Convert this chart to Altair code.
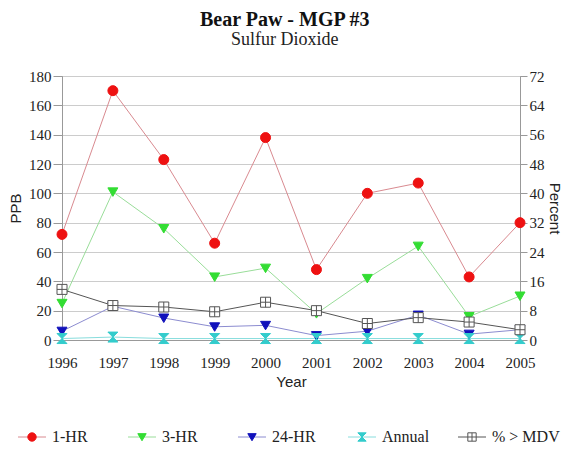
import altair as alt
import pandas as pd

years = [1996, 1997, 1998, 1999, 2000, 2001, 2002, 2003, 2004, 2005]
hr1 = [72, 170, 123, 66, 138, 48, 100, 107, 43, 80]
hr3 = [25, 101, 76, 43, 49, 18, 42, 64, 16, 30]
hr24 = [6, 23, 15, 9, 10, 3, 6, 17, 4, 7]
annual = [1, 2, 1, 1, 1, 1, 1, 1, 1, 1]
pct_mdv = [13.8, 9.4, 9.0, 7.7, 10.3, 8.0, 4.5, 6.1, 4.9, 2.8]

ppb_names = ["1-HR", "3-HR", "24-HR", "Annual"]
all_names = ["1-HR", "3-HR", "24-HR", "Annual", "% > MDV"]
line_colors = ["#d98a90", "#99dd99", "#8c8cd0", "#88dddd", "#555555"]
fill_colors = ["#ee1111", "#33dd33", "#1111bb", "#33cccc", "#ffffff"]
stroke_colors = ["#ee1111", "#33dd33", "#1111bb", "#33cccc", "#555555"]
tri = "M-1,-0.8L1,-0.8L0,0.9Z"
shapes = ["circle", tri, tri, "M-1,-1H1L0,0L1,1H-1L0,0Z",
          "M-1,-1H1V1H-1Z M0,-1V1 M-1,0H1"]

rows = []
for name, vals in zip(ppb_names, [hr1, hr3, hr24, annual]):
    for y, v in zip(years, vals):
        rows.append({"year": y, "series": name, "ppb": v})
ppb_df = pd.DataFrame(rows)
pct_df = pd.DataFrame({"year": years, "pct": pct_mdv, "series": "% > MDV"})
leg_df = pd.DataFrame({"series": all_names})

SERIF = "Liberation Serif"
SANS = "Liberation Sans"

x_enc = alt.X("year:Q", scale=alt.Scale(domain=[1996, 2005], nice=False),
              axis=alt.Axis(values=years, format="d", grid=False, title="Year",
                            labelFlush=False, ticks=False, labelPadding=15,
                            labelFont=SERIF, labelFontSize=15, labelColor="#222",
                            titleFont=SANS, titleFontSize=15, titleFontWeight="normal",
                            titlePadding=4, titleColor="#222",
                            domainColor="#999"))

y_ppb = alt.Y("ppb:Q", scale=alt.Scale(domain=[0, 180], nice=False),
              axis=alt.Axis(values=list(range(0, 181, 20)), title="PPB",
                            grid=True, gridColor="#cccccc", ticks=True, tickSize=9,
                            tickColor="#999",
                            labelPadding=2, labelFont=SERIF, labelFontSize=15,
                            labelColor="#222", titleFont=SANS, titleFontSize=15,
                            titleFontWeight="normal", titleColor="#222",
                            titlePadding=5, domainColor="#999"))

ppb_lines = alt.Chart(ppb_df).mark_line(strokeWidth=1).encode(
    x=x_enc, y=y_ppb,
    color=alt.Color("series:N", scale=alt.Scale(domain=all_names, range=line_colors), legend=None),
)
ppb_points = alt.Chart(ppb_df).mark_point(filled=True, opacity=1, size=100, strokeWidth=1).encode(
    x=x_enc, y=y_ppb,
    shape=alt.Shape("series:N", scale=alt.Scale(domain=all_names, range=shapes), legend=None),
    fill=alt.Fill("series:N", scale=alt.Scale(domain=all_names, range=fill_colors), legend=None),
    stroke=alt.Stroke("series:N", scale=alt.Scale(domain=all_names, range=stroke_colors), legend=None),
)

y_pct = alt.Y("pct:Q", scale=alt.Scale(domain=[0, 72], nice=False),
              axis=alt.Axis(orient="right", values=list(range(0, 73, 8)), title="Percent",
                            grid=False, ticks=True, tickSize=7, tickColor="#999",
                            labelPadding=2, labelFont=SERIF, labelFontSize=15,
                            labelColor="#222", titleFont=SANS, titleFontSize=15,
                            titleFontWeight="normal", titleColor="#222",
                            titlePadding=2, domainColor="#999"))

pct_line = alt.Chart(pct_df).mark_line(strokeWidth=1, color="#555555").encode(x=x_enc, y=y_pct)
pct_points = alt.Chart(pct_df).mark_point(shape=shapes[4], size=100, fill="#ffffff",
                                          stroke="#555555", filled=False, opacity=1,
                                          strokeWidth=1).encode(x=x_enc, y=y_pct)

left = alt.layer(ppb_lines, ppb_points)
right = alt.layer(pct_line, pct_points)
main = alt.layer(left, right).resolve_scale(y="independent").properties(
    width=458, height=264, view=alt.ViewConfig(stroke="#999999"))

lx = alt.X("series:N", scale=alt.Scale(domain=all_names, range=[-30, 410], padding=0),
           axis=None)
leg_line = alt.Chart(leg_df).mark_point(shape="M-1,0L1,0", size=784, filled=False,
                                        opacity=1, strokeWidth=1).encode(
    x=lx, y=alt.value(4),
    stroke=alt.Stroke("series:N", scale=alt.Scale(domain=all_names, range=line_colors), legend=None),
)
leg_pts = alt.Chart(leg_df).mark_point(filled=True, opacity=1, size=70, strokeWidth=1).encode(
    x=lx, y=alt.value(4),
    shape=alt.Shape("series:N", scale=alt.Scale(domain=all_names, range=shapes), legend=None),
    fill=alt.Fill("series:N", scale=alt.Scale(domain=all_names, range=fill_colors), legend=None),
    stroke=alt.Stroke("series:N", scale=alt.Scale(domain=all_names, range=stroke_colors), legend=None),
)
leg_txt = alt.Chart(leg_df).mark_text(align="left", baseline="middle", dx=20, font=SERIF,
                                      fontSize=16, color="#222").encode(
    x=lx, y=alt.value(4), text="series:N")
legend = alt.layer(leg_line, leg_pts, leg_txt).resolve_scale(stroke="independent").properties(
    width=458, height=8, view=alt.ViewConfig(stroke=None))

chart = alt.vconcat(main, legend, spacing=39).properties(
    title=alt.Title("Bear Paw - MGP #3", subtitle="Sulfur Dioxide", anchor="middle",
                    font=SERIF, fontSize=20, fontWeight="bold", color="#111",
                    subtitleFont=SERIF, subtitleFontSize=18, subtitleColor="#222",
                    subtitlePadding=1, offset=20),
    padding={"left": 0, "top": 1, "right": 0, "bottom": 0},
).configure(background="white")

chart.save("out.html", embed_options={"renderer": "svg", "actions": False})
